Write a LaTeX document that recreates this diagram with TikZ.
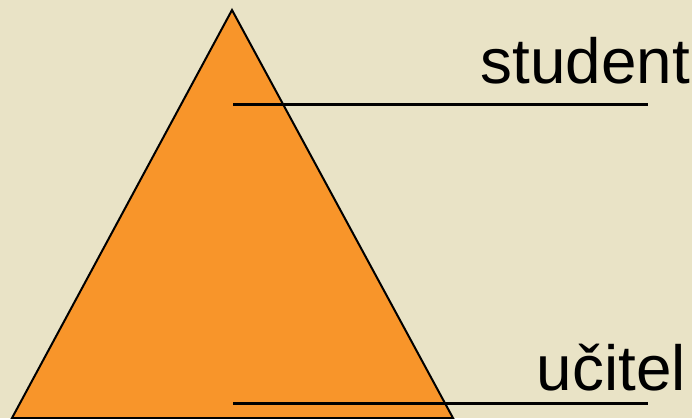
\documentclass[tikz,border=0pt]{standalone}
\usepackage{fontspec}
\setmainfont{Liberation Sans}
\usepackage{xcolor}
\usetikzlibrary{positioning, calc}
\definecolor{cPaper}  {HTML}{E9E3C6}
\definecolor{cOrange} {HTML}{F8952A}
\definecolor{cInk}    {HTML}{000000}

\begin{document}
\begin{tikzpicture}[x=1bp, y=-1bp,
    role/.style={font=\fontsize{64}{70}\selectfont, text=cInk, inner sep=0pt, anchor=base east},
    rule/.style={draw=cInk, line width=3bp}]
        \fill[cPaper] (0,0) rectangle (692,418);
        \useasboundingbox (0,0) rectangle (692,418);
        % pyramid
        \coordinate (apex) at (232,10);
        \coordinate (bl) at (12,418);
        \coordinate (br) at (453,418);
        \draw[fill=cOrange, draw=cInk, line width=2bp, line join=miter] (apex) -- (br) -- (bl) -- cycle;
        % levels
        \coordinate (top0) at (233,104);
        \coordinate (top1) at (648,104);
        \coordinate (bot0) at (233,403);
        \coordinate (bot1) at (648,403);
        \draw[rule] (top0) -- (top1);
        \draw[rule] (bot0) -- (bot1);
        \node[role] (student) at (690,83) {student};
        \node[role] (ucitel) at (686,390) {učitel};
      \end{tikzpicture}
\end{document}
